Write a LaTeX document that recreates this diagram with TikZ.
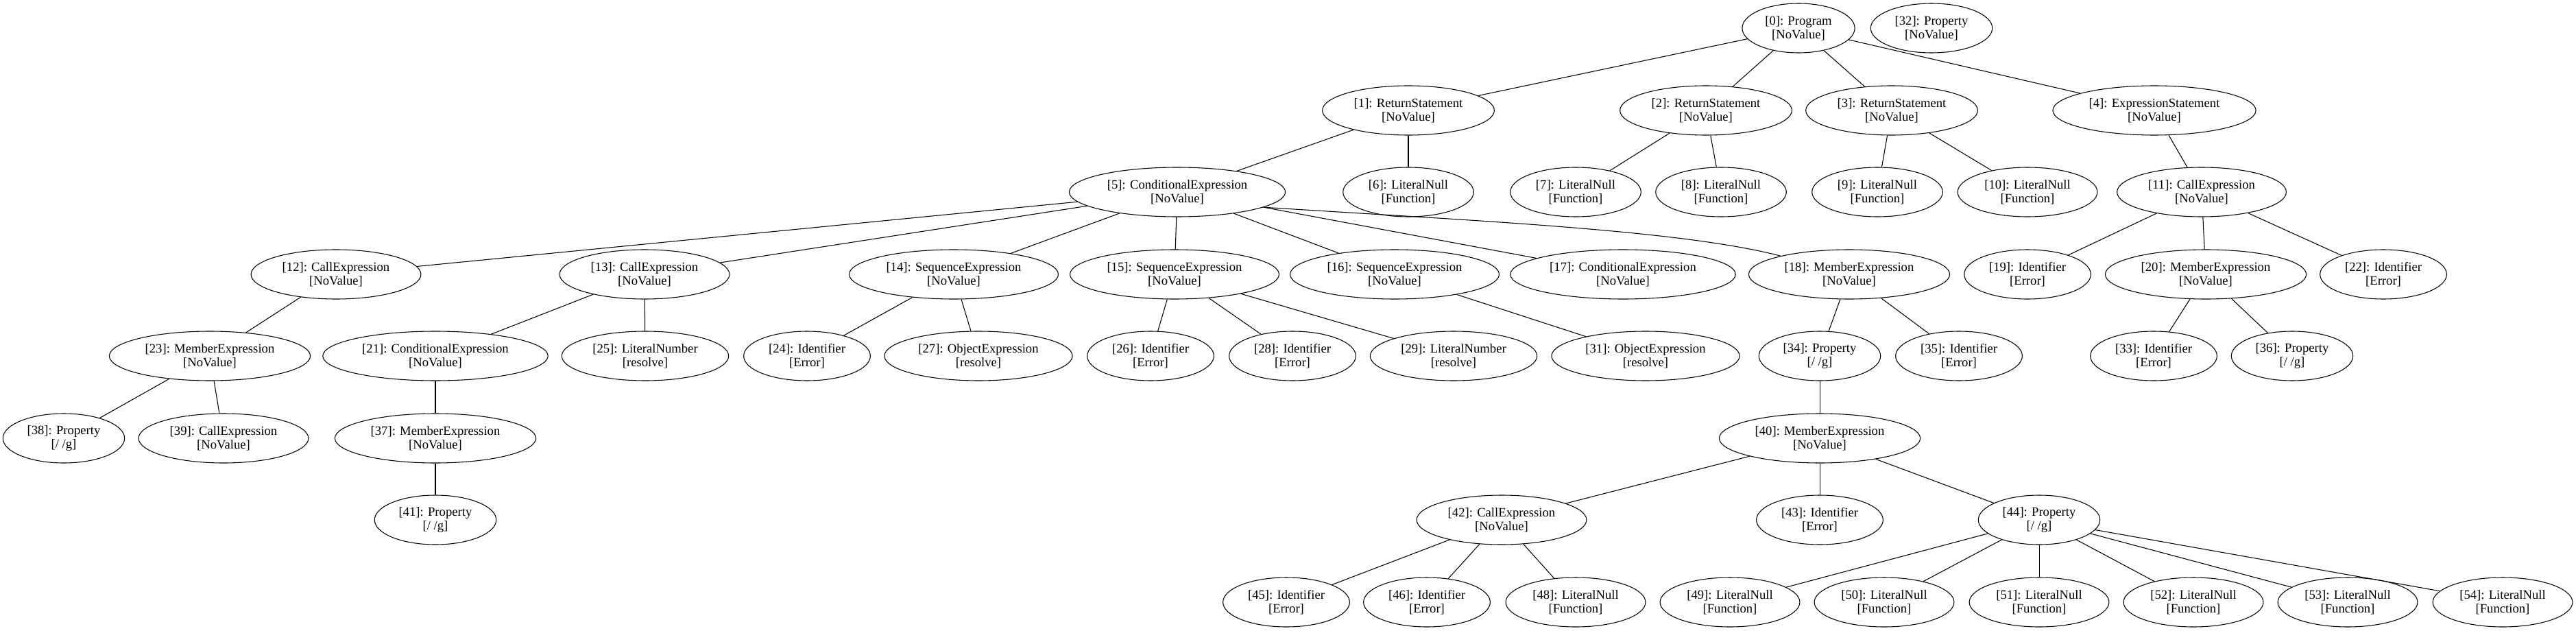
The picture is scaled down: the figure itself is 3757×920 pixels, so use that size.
\documentclass[tikz,border=0pt]{standalone}
\usepackage{fontspec}
\setmainfont{Liberation Serif}
\usetikzlibrary{shapes.geometric}

\begin{document}
\begin{tikzpicture}[x=0.75pt, y=-0.75pt,
    ast/.style={ellipse, draw, line width=0.8pt, align=center, inner xsep=7pt, inner ysep=2pt,
      minimum height=54pt, font=\fontsize{14}{15}\selectfont}]
           \useasboundingbox (0,0) rectangle (3757,920);
           \node [ast] (n0) at (2623,41) {[0]: Program\\{}[NoValue]};
           \node [ast] (n32) at (2817,41) {[32]: Property\\{}[NoValue]};
           \node [ast] (n1) at (2054,161) {[1]: ReturnStatement\\{}[NoValue]};
           \node [ast] (n2) at (2488,161) {[2]: ReturnStatement\\{}[NoValue]};
           \node [ast] (n3) at (2759,161) {[3]: ReturnStatement\\{}[NoValue]};
           \node [ast] (n4) at (3142,161) {[4]: ExpressionStatement\\{}[NoValue]};
           \node [ast] (n5) at (1717,280) {[5]: ConditionalExpression\\{}[NoValue]};
           \node [ast] (n6) at (2054,280) {[6]: LiteralNull\\{}[Function]};
           \node [ast] (n7) at (2298,280) {[7]: LiteralNull\\{}[Function]};
           \node [ast] (n8) at (2510,280) {[8]: LiteralNull\\{}[Function]};
           \node [ast] (n9) at (2738,280) {[9]: LiteralNull\\{}[Function]};
           \node [ast] (n10) at (2957,280) {[10]: LiteralNull\\{}[Function]};
           \node [ast] (n11) at (3211,280) {[11]: CallExpression\\{}[NoValue]};
           \node [ast] (n12) at (490,400) {[12]: CallExpression\\{}[NoValue]};
           \node [ast] (n13) at (940,400) {[13]: CallExpression\\{}[NoValue]};
           \node [ast] (n14) at (1391,400) {[14]: SequenceExpression\\{}[NoValue]};
           \node [ast] (n15) at (1713,400) {[15]: SequenceExpression\\{}[NoValue]};
           \node [ast] (n16) at (2034,400) {[16]: SequenceExpression\\{}[NoValue]};
           \node [ast] (n17) at (2367,400) {[17]: ConditionalExpression\\{}[NoValue]};
           \node [ast] (n18) at (2697,400) {[18]: MemberExpression\\{}[NoValue]};
           \node [ast] (n19) at (2957,400) {[19]: Identifier\\{}[Error]};
           \node [ast] (n20) at (3217,400) {[20]: MemberExpression\\{}[NoValue]};
           \node [ast] (n22) at (3476,400) {[22]: Identifier\\{}[Error]};
           \node [ast] (n23) at (306,519) {[23]: MemberExpression\\{}[NoValue]};
           \node [ast] (n21) at (635,519) {[21]: ConditionalExpression\\{}[NoValue]};
           \node [ast] (n25) at (941,519) {[25]: LiteralNumber\\{}[resolve]};
           \node [ast] (n24) at (1177,519) {[24]: Identifier\\{}[Error]};
           \node [ast] (n27) at (1427,519) {[27]: ObjectExpression\\{}[resolve]};
           \node [ast] (n26) at (1678,519) {[26]: Identifier\\{}[Error]};
           \node [ast] (n28) at (1885,519) {[28]: Identifier\\{}[Error]};
           \node [ast] (n29) at (2120,519) {[29]: LiteralNumber\\{}[resolve]};
           \node [ast] (n31) at (2400,519) {[31]: ObjectExpression\\{}[resolve]};
           \node [ast] (n34) at (2654,519) {[34]: Property\\{}[/ /g]};
           \node [ast] (n35) at (2857,519) {[35]: Identifier\\{}[Error]};
           \node [ast] (n33) at (3141,519) {[33]: Identifier\\{}[Error]};
           \node [ast] (n36) at (3343,519) {[36]: Property\\{}[/ /g]};
           \node [ast] (n38) at (93,639) {[38]: Property\\{}[/ /g]};
           \node [ast] (n39) at (326,639) {[39]: CallExpression\\{}[NoValue]};
           \node [ast] (n37) at (635,639) {[37]: MemberExpression\\{}[NoValue]};
           \node [ast] (n40) at (2654,639) {[40]: MemberExpression\\{}[NoValue]};
           \node [ast] (n41) at (635,758) {[41]: Property\\{}[/ /g]};
           \node [ast] (n42) at (2190,758) {[42]: CallExpression\\{}[NoValue]};
           \node [ast] (n43) at (2654,758) {[43]: Identifier\\{}[Error]};
           \node [ast] (n44) at (2974,758) {[44]: Property\\{}[/ /g]};
           \node [ast] (n45) at (1876,878) {[45]: Identifier\\{}[Error]};
           \node [ast] (n46) at (2081,878) {[46]: Identifier\\{}[Error]};
           \node [ast] (n48) at (2298,878) {[48]: LiteralNull\\{}[Function]};
           \node [ast] (n49) at (2523,878) {[49]: LiteralNull\\{}[Function]};
           \node [ast] (n50) at (2748,878) {[50]: LiteralNull\\{}[Function]};
           \node [ast] (n51) at (2974,878) {[51]: LiteralNull\\{}[Function]};
           \node [ast] (n52) at (3199,878) {[52]: LiteralNull\\{}[Function]};
           \node [ast] (n53) at (3424,878) {[53]: LiteralNull\\{}[Function]};
           \node [ast] (n54) at (3650,878) {[54]: LiteralNull\\{}[Function]};
           \draw [line width=0.8pt] (n0) -- (n1);
           \draw [line width=0.8pt] (n0) -- (n2);
           \draw [line width=0.8pt] (n0) -- (n3);
           \draw [line width=0.8pt] (n0) -- (n4);
           \draw [line width=0.8pt] (n1) -- (n5);
           \draw [line width=0.8pt] (n1) -- (n6);
           \draw [line width=0.8pt] (n2) -- (n7);
           \draw [line width=0.8pt] (n2) -- (n8);
           \draw [line width=0.8pt] (n3) -- (n9);
           \draw [line width=0.8pt] (n3) -- (n10);
           \draw [line width=0.8pt] (n4) -- (n11);
           \draw [line width=0.8pt] (n5) -- (n12);
           \draw [line width=0.8pt] (n5) -- (n13);
           \draw [line width=0.8pt] (n5) -- (n14);
           \draw [line width=0.8pt] (n5) -- (n15);
           \draw [line width=0.8pt] (n5) -- (n16);
           \draw [line width=0.8pt] (n5.-10) -- (n17);
           \draw [line width=0.8pt] (n5.-10) .. controls (2150,322) and (2450,335) .. (n18.165);
           \draw [line width=0.8pt] (n11) -- (n19);
           \draw [line width=0.8pt] (n11) -- (n20);
           \draw [line width=0.8pt] (n11) -- (n22);
           \draw [line width=0.8pt] (n12) -- (n23);
           \draw [line width=0.8pt] (n13) -- (n21);
           \draw [line width=0.8pt] (n13) -- (n25);
           \draw [line width=0.8pt] (n14) -- (n24);
           \draw [line width=0.8pt] (n14) -- (n27);
           \draw [line width=0.8pt] (n15) -- (n26);
           \draw [line width=0.8pt] (n15) -- (n28);
           \draw [line width=0.8pt] (n15) -- (n29);
           \draw [line width=0.8pt] (n16) -- (n31);
           \draw [line width=0.8pt] (n18) -- (n34);
           \draw [line width=0.8pt] (n18) -- (n35);
           \draw [line width=0.8pt] (n20) -- (n33);
           \draw [line width=0.8pt] (n20) -- (n36);
           \draw [line width=0.8pt] (n23) -- (n38);
           \draw [line width=0.8pt] (n23) -- (n39);
           \draw [line width=0.8pt] (n21) -- (n37);
           \draw [line width=0.8pt] (n37) -- (n41);
           \draw [line width=0.8pt] (n34) -- (n40);
           \draw [line width=0.8pt] (n40) -- (n42);
           \draw [line width=0.8pt] (n40) -- (n43);
           \draw [line width=0.8pt] (n40) -- (n44);
           \draw [line width=0.8pt] (n42) -- (n45);
           \draw [line width=0.8pt] (n42) -- (n46);
           \draw [line width=0.8pt] (n42) -- (n48);
           \draw [line width=0.8pt] (n44) -- (n49);
           \draw [line width=0.8pt] (n44) -- (n50);
           \draw [line width=0.8pt] (n44) -- (n51);
           \draw [line width=0.8pt] (n44) -- (n52);
           \draw [line width=0.8pt] (n44) -- (n53);
           \draw [line width=0.8pt] (n44) -- (n54);
      \end{tikzpicture}
\end{document}
